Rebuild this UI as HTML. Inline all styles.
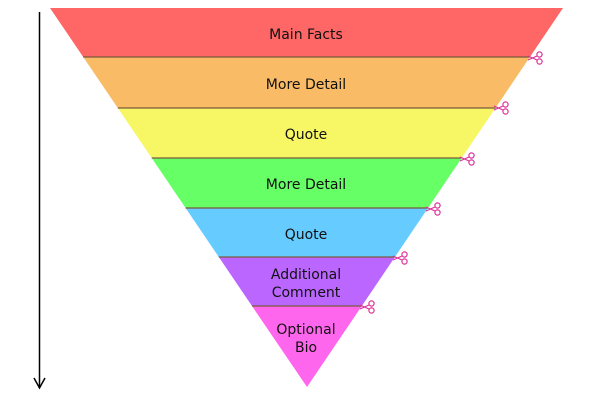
<!DOCTYPE html>
<html><head><style>body{margin:0;background:#fff}svg{display:block}</style></head><body>
<svg width="600" height="400" xmlns="http://www.w3.org/2000/svg" font-family="'DejaVu Sans','Liberation Sans',sans-serif" font-size="14" fill="#111">
<defs>
<g id="sc" fill="none" stroke="#e0309a" stroke-width="1.2">
<line x1="0" y1="0" x2="9" y2="4"/><line x1="0" y1="4" x2="9" y2="0"/>
<circle cx="11.5" cy="-1.5" r="2.6"/><circle cx="11.5" cy="5.5" r="2.6"/>
</g>
</defs>
<line x1="39.5" y1="12" x2="39.5" y2="388" stroke="#000" stroke-width="1.5"/>
<polyline points="34,378 39.5,388 45,378" fill="none" stroke="#000" stroke-width="1.5"/>
<polygon points="50,8 563,8 529.9,57 83.2,57" fill="#ff6666"/>
<polygon points="83.2,57 529.9,57 495.5,108 117.8,108" fill="#f9bb66"/>
<polygon points="117.8,108 495.5,108 461.7,158 151.7,158" fill="#f7f766"/>
<polygon points="151.7,158 461.7,158 428,208 185.6,208" fill="#66ff66"/>
<polygon points="185.6,208 428,208 394.9,257 218.8,257" fill="#66ccff"/>
<polygon points="218.8,257 394.9,257 361.8,306 252,306" fill="#bb66ff"/>
<polygon points="252,306 361.8,306 307,387" fill="#ff66ee"/>
<g stroke="#7a5a3a" stroke-width="1.2">
<line x1="83.2" y1="57" x2="529.9" y2="57"/><line x1="117.8" y1="108" x2="495.5" y2="108"/>
<line x1="151.7" y1="158" x2="461.7" y2="158"/><line x1="185.6" y1="208" x2="428" y2="208"/>
<line x1="218.8" y1="257" x2="394.9" y2="257"/><line x1="252" y1="306" x2="361.8" y2="306"/>
</g>
<use href="#sc" x="528" y="56"/><use href="#sc" x="494" y="106"/><use href="#sc" x="460" y="157"/>
<use href="#sc" x="426" y="207"/><use href="#sc" x="393" y="256"/><use href="#sc" x="360" y="305"/>
<g text-anchor="middle">
<text x="306" y="39">Main Facts</text>
<text x="306" y="89">More Detail</text>
<text x="306" y="139">Quote</text>
<text x="306" y="189">More Detail</text>
<text x="306" y="239">Quote</text>
<text x="306" y="279">Additional</text>
<text x="306" y="297">Comment</text>
<text x="306" y="334">Optional</text>
<text x="306" y="352">Bio</text>
</g>
</svg>
</body></html>
